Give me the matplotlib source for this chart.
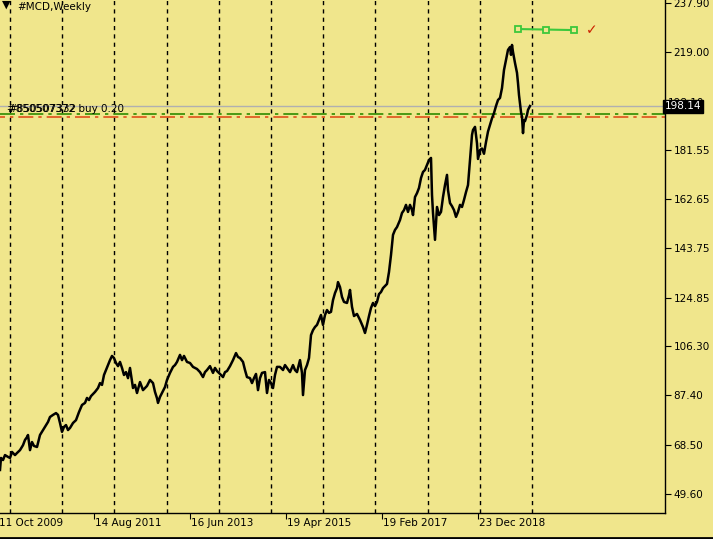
import matplotlib
matplotlib.use("Agg")
import matplotlib.pyplot as plt
import matplotlib.transforms as mtransforms
import pandas as pd

# weekly bars, index 0 = week of 11 Oct 2009
weeks = [2, 3, 5, 7, 10, 12, 14, 17, 19, 22, 25, 27, 29, 30, 32, 34, 36, 39, 42, 45,
         48, 50, 52, 55, 58, 60, 62, 64, 66, 68, 70, 72, 75, 78, 81, 84, 87, 89, 91, 93,
         97, 100, 102, 104, 106, 108, 110, 112, 114, 116, 118, 120, 122, 124, 126, 128, 130, 132, 135, 137,
         139, 142, 145, 149, 152, 155, 157, 159, 160, 162, 164, 167, 169, 172, 175, 177, 179, 182, 184, 186,
         189, 192, 195, 199, 202, 205, 207, 209, 212, 215, 217, 219, 222, 225, 227, 229, 232, 235, 238, 240,
         242, 245, 247, 249, 252, 254, 256, 258, 260, 262, 264, 267, 269, 271, 273, 275, 277, 279, 282, 285,
         287, 289, 292, 295, 297, 299, 302, 304, 305, 307, 309, 311, 313, 315, 317, 319, 321, 323, 325, 327,
         329, 331, 333, 335, 337, 339, 340, 342, 344, 346, 349, 351, 352, 354, 356, 359, 362, 365, 367, 369,
         371, 373, 375, 377, 379, 381, 383, 385, 387, 389, 391, 393, 395, 397, 399, 402, 404, 406, 408, 410,
         412, 414, 415, 417, 419, 421, 423, 425, 427, 429, 431, 433, 434, 435, 437, 439, 441, 443, 445, 447,
         449, 450, 452, 454, 456, 458, 460, 462, 464, 466, 468, 470, 472, 474, 475, 477, 479, 480, 482, 484,
         486, 488, 490, 492, 494, 496, 498, 500, 502, 504, 506, 508, 510, 512, 513, 514, 515, 517, 519, 520,
         521, 522, 523, 524, 525, 526, 527, 529, 530, 532]
close = [58.8, 63.4, 62.6, 64.5, 63.8, 63.4, 65.7, 64.5, 65.3, 66.4, 68.3, 70.3, 71.4, 72.2, 66.4, 69.5, 68.0, 67.6, 72.2, 74.1,
         76.0, 77.2, 79.1, 79.9, 80.6, 79.9, 76.8, 73.4, 75.3, 76.0, 74.1, 74.9, 76.8, 77.9, 81.0, 83.7, 84.5, 86.4, 85.6, 87.1,
         88.7, 90.2, 92.1, 91.4, 95.2, 97.1, 99.0, 100.9, 102.5, 101.7, 99.8, 98.6, 100.2, 97.9, 95.2, 96.3, 94.0, 97.9, 90.2, 91.4,
         88.3, 92.5, 89.4, 91.0, 93.3, 92.1, 88.7, 86.3, 84.5, 86.8, 88.3, 90.6, 93.3, 96.0, 98.3, 99.0, 100.2, 102.9, 100.9, 102.5,
         100.2, 99.8, 98.3, 97.5, 96.3, 94.4, 96.3, 97.1, 98.6, 96.0, 97.9, 96.7, 95.6, 94.4, 96.3, 96.7, 98.6, 100.9, 103.6, 102.1,
         101.7, 100.2, 97.1, 94.4, 94.0, 92.1, 94.0, 95.6, 89.4, 94.0, 96.0, 96.3, 88.3, 93.3, 92.1, 90.2, 95.2, 98.3, 98.3, 97.1,
         99.0, 97.9, 96.3, 99.0, 97.1, 96.3, 100.9, 96.0, 87.5, 97.1, 99.0, 101.7, 110.5, 112.4, 113.6, 114.4, 116.3, 118.2, 114.4, 118.2,
         120.1, 119.0, 119.4, 123.9, 126.6, 128.5, 130.8, 128.9, 125.1, 123.2, 122.8, 125.8, 127.8, 121.3, 117.8, 118.6, 116.3, 113.6, 111.3, 114.4,
         117.8, 120.9, 122.8, 121.6, 123.2, 126.2, 127.0, 128.5, 129.3, 130.1, 134.7, 141.2, 148.9, 150.8, 151.9, 154.6, 157.3, 158.4, 160.4, 157.7,
         160.4, 158.4, 156.5, 163.4, 164.9, 166.9, 170.7, 173.0, 173.8, 175.7, 177.6, 178.4, 164.2, 157.3, 147.0, 159.6, 156.5, 157.7, 163.4, 168.0,
         171.9, 166.1, 161.1, 159.9, 158.4, 155.8, 157.7, 160.4, 159.6, 162.3, 165.3, 168.0, 177.6, 187.2, 189.1, 190.3, 184.0, 178.0, 181.4, 182.0,
         180.0, 184.5, 188.5, 191.0, 193.6, 195.6, 198.3, 200.6, 201.4, 205.2, 212.1, 215.9, 219.8, 220.9, 217.9, 221.7, 219.0, 214.8, 211.0, 207.1,
         202.5, 199.4, 196.0, 194.1, 187.9, 192.9, 192.5, 194.9, 196.8, 198.3]

price_ticks = [237.90, 219.00, 181.55, 162.65, 143.75, 124.85, 106.30, 87.40, 68.50, 49.60]
date_labels = ["11 Oct 2009", "14 Aug 2011", "16 Jun 2013", "19 Apr 2015", "19 Feb 2017", "23 Dec 2018"]
label_weeks = [0, 96, 192, 288, 384, 480]

bid = 198.14
order_green = 195.2
order_orange = 194.1
trend_weeks = [520, 548, 576]
trend_prices = [227.8, 227.6, 227.4]

BG = "#F0E68C"
W, H = 713, 539
fig = plt.figure(figsize=(W / 100, H / 100), dpi=100, facecolor=BG)
ax = fig.add_axes([0, 26 / H, 665 / W, 513 / H], facecolor=BG)
ax.set_xlim(2, 667)
ax.set_ylim(42.3, 238.93)

font = dict(family="DejaVu Sans", size=7.5)

# yearly separators
start = pd.Timestamp("2009-10-11")
for yr in range(2010, 2021):
    d = pd.Timestamp(f"{yr}-01-01")
    d = d + pd.Timedelta(days=(6 - d.weekday()) % 7)
    ax.axvline((d - start).days // 7, color="black", lw=1, ls=(0, (3, 3)), zorder=1)

ax.axhline(bid, color="#b0b0b0", lw=1, zorder=2)
ax.axhline(order_green, color="#2e8b00", lw=1.2, ls=(0, (9, 3, 2, 3)), zorder=2)
ax.axhline(order_orange, color="#e0501a", lw=1.2, ls=(6, (9, 3, 2, 3)), zorder=2)

ax.plot(weeks, close, color="black", lw=1.8, zorder=3)

ax.plot(trend_weeks, trend_prices, color="#3cc83c", lw=1.5, marker="s", ms=4.5,
        mfc=BG, mec="#3cc83c", mew=1.3, zorder=4)
ax.text(594, 227.3, "\u2713", color="#cc2200", fontsize=10, ha="center", va="center",
        family="DejaVu Sans", fontweight="bold")

# overlapping order labels, as in the terminal
ax.text(9, 197.3, "#850507372 buy 0.20", color="black", va="center", ha="left", **font)
ax.text(10, 197.0, "#850507332", color="black", va="center", ha="left", **font)
ax.text(19, 236.3, "#MCD,Weekly", color="black", va="center", ha="left", **font)
ax.text(8, 237.0, "\u25BC", color="black", va="center", ha="center", fontsize=8)

for s in ["top", "left"]:
    ax.spines[s].set_visible(False)
for s in ["right", "bottom"]:
    ax.spines[s].set_color("black")
    ax.spines[s].set_linewidth(1)

ax.yaxis.tick_right()
ax.set_yticks(price_ticks)
ax.set_yticklabels([f"{p:.2f}" for p in price_ticks], **font)
ax.tick_params(axis="y", direction="out", length=4, pad=2, colors="black")

ax.set_xticks([w for w in label_weeks if w >= 2])
ax.set_xticklabels([])
ax.tick_params(axis="x", direction="out", length=4, colors="black")
tr = mtransforms.blended_transform_factory(ax.transData, ax.transAxes)
for w, lab in zip(label_weeks, date_labels):
    ax.text(w + 1, -0.02, lab, transform=tr, ha="left", va="center", clip_on=False, **font)

# bid label with the hidden ask label behind it
ax.text(670, 199.4, "198.10", ha="left", va="center", clip_on=False, zorder=5, **font)
ax.text(667, bid, f"{bid:.2f}", ha="left", va="center", color="white", clip_on=False, zorder=6,
        bbox=dict(boxstyle="square,pad=0.18", fc="black", ec="black"), **font)

fig.add_artist(plt.Line2D([0, 1], [0.7 / H, 0.7 / H], color="black", lw=2, transform=fig.transFigure))

fig.savefig("out.png", dpi=100, facecolor=BG)
